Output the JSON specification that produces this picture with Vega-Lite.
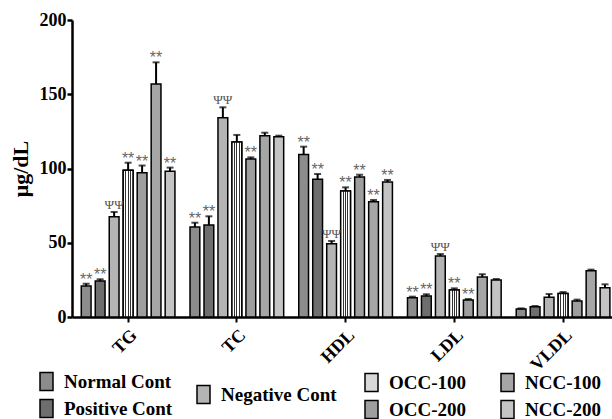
{
  "$schema": "https://vega.github.io/schema/vega-lite/v6.json",
  "width": 540,
  "height": 297,
  "autosize": {"type": "none"},
  "padding": {"left": 72, "top": 20, "right": 0, "bottom": 102},
  "background": "white",
  "config": {
    "view": {"stroke": null},
    "font": "Liberation Serif",
    "legend": {
      "labelFont": "Liberation Serif",
      "labelFontWeight": "bold",
      "labelFontSize": 19,
      "labelColor": "black",
      "symbolStrokeColor": "black",
      "symbolStrokeWidth": 1.5,
      "symbolOpacity": 1,
      "rowPadding": 2,
      "labelOffset": 8,
      "padding": 0,
      "titlePadding": 0
    }
  },
  "data": {
    "values": [
      {"m": "TG", "g": "Normal Cont", "v": 20.9, "u": 22.4, "s": "**"},
      {"m": "TG", "g": "Positive Cont", "v": 24.2, "u": 25.4, "s": "**"},
      {"m": "TG", "g": "Negative Cont", "v": 67.5, "u": 70.7, "s": "ΨΨ"},
      {"m": "TG", "g": "OCC-100", "v": 98.8, "u": 103.9, "s": "**"},
      {"m": "TG", "g": "OCC-200", "v": 97.2, "u": 102, "s": "**"},
      {"m": "TG", "g": "NCC-100", "v": 156.9, "u": 171.5, "s": "**"},
      {"m": "TG", "g": "NCC-200", "v": 98.1, "u": 100.6, "s": "**"},
      {"m": "TC", "g": "Normal Cont", "v": 60.6, "u": 63.5, "s": "**"},
      {"m": "TC", "g": "Positive Cont", "v": 62, "u": 67.8, "s": "**"},
      {"m": "TC", "g": "Negative Cont", "v": 134.2, "u": 141.2, "s": "ΨΨ"},
      {"m": "TC", "g": "OCC-100", "v": 117.8, "u": 122.6, "s": ""},
      {"m": "TC", "g": "OCC-200", "v": 106.4, "u": 107.5, "s": "**"},
      {"m": "TC", "g": "NCC-100", "v": 122.1, "u": 124.1, "s": ""},
      {"m": "TC", "g": "NCC-200", "v": 121.4, "u": 122.1, "s": ""},
      {"m": "HDL", "g": "Normal Cont", "v": 109.5, "u": 114.7, "s": "**"},
      {"m": "HDL", "g": "Positive Cont", "v": 92.7, "u": 96.3, "s": "**"},
      {"m": "HDL", "g": "Negative Cont", "v": 49.4, "u": 51.2, "s": "ΨΨ"},
      {"m": "HDL", "g": "OCC-100", "v": 84.8, "u": 87.3, "s": "**"},
      {"m": "HDL", "g": "OCC-200", "v": 94.3, "u": 95.8, "s": "**"},
      {"m": "HDL", "g": "NCC-100", "v": 77.6, "u": 78.8, "s": "**"},
      {"m": "HDL", "g": "NCC-200", "v": 90.9, "u": 92.3, "s": "**"},
      {"m": "LDL", "g": "Normal Cont", "v": 13, "u": 13.7, "s": "**"},
      {"m": "LDL", "g": "Positive Cont", "v": 14.1, "u": 15.3, "s": "**"},
      {"m": "LDL", "g": "Negative Cont", "v": 41.1, "u": 42.4, "s": "ΨΨ"},
      {"m": "LDL", "g": "OCC-100", "v": 18.2, "u": 19.3, "s": "**"},
      {"m": "LDL", "g": "OCC-200", "v": 11.4, "u": 12.1, "s": "**"},
      {"m": "LDL", "g": "NCC-100", "v": 26.9, "u": 28.8, "s": ""},
      {"m": "LDL", "g": "NCC-200", "v": 24.9, "u": 25.6, "s": ""},
      {"m": "VLDL", "g": "Normal Cont", "v": 5.4, "u": 5.8, "s": ""},
      {"m": "VLDL", "g": "Positive Cont", "v": 6.9, "u": 7.4, "s": ""},
      {"m": "VLDL", "g": "Negative Cont", "v": 13.3, "u": 15.5, "s": ""},
      {"m": "VLDL", "g": "OCC-100", "v": 15.9, "u": 16.8, "s": ""},
      {"m": "VLDL", "g": "OCC-200", "v": 10.8, "u": 11.7, "s": ""},
      {"m": "VLDL", "g": "NCC-100", "v": 31.2, "u": 31.9, "s": ""},
      {"m": "VLDL", "g": "NCC-200", "v": 19.7, "u": 22, "s": ""}
    ]
  },
  "encoding": {
    "x": {
      "field": "m",
      "type": "nominal",
      "sort": ["TG", "TC", "HDL", "LDL", "VLDL"],
      "scale": {"paddingInner": 0.1, "paddingOuter": 0.033, "align": 1},
      "axis": {
        "title": null,
        "labelAngle": -45,
        "labelFont": "Liberation Serif",
        "labelFontWeight": "bold",
        "labelFontSize": 18,
        "labelColor": "black",
        "labelPadding": 4,
        "domainColor": "black",
        "domainWidth": 2.5,
        "tickColor": "black",
        "tickWidth": 2,
        "tickSize": 5,
        "encode": {
          "labels": {
            "update": {
              "align": {"value": "right"},
              "baseline": {"value": "middle"}
            }
          }
        }
      }
    },
    "xOffset": {
      "field": "g",
      "type": "nominal",
      "scale": {
        "domain": ["Normal Cont", "Positive Cont", "Negative Cont", "OCC-100", "OCC-200", "NCC-100", "NCC-200"],
        "paddingInner": 0.3,
        "paddingOuter": 0.15
      }
    }
  },
  "layer": [
    {
      "transform": [{"filter": {"field": "g", "oneOf": ["Normal Cont", "Positive Cont"]}}],
      "mark": {"type": "bar", "stroke": "black", "strokeWidth": 1.5},
      "encoding": {
        "y": {
          "field": "v",
          "type": "quantitative",
          "scale": {"domain": [0, 200], "nice": false},
          "axis": {
            "title": "μg/dL",
            "titleFont": "Liberation Serif",
            "titleFontWeight": "bold",
            "titleFontSize": 22,
            "titleColor": "black",
            "titlePadding": 7,
            "values": [0, 50, 100, 150, 200],
            "grid": false,
            "labelFont": "Liberation Serif",
            "labelFontWeight": "bold",
            "labelFontSize": 18,
            "labelColor": "black",
            "labelPadding": 1,
            "domainColor": "black",
            "domainWidth": 2.5,
            "tickColor": "black",
            "tickWidth": 2.5,
            "tickSize": 5
          }
        },
        "fill": {
          "field": "g",
          "type": "nominal",
          "scale": {"domain": ["Normal Cont", "Positive Cont"], "range": ["#8c8c8c", "#6e6e6e"]},
          "legend": {"title": null, "orient": "none", "legendX": -35, "legendY": 352, "symbolType": "M-1,-1.4H1V1.4H-1Z", "symbolSize": 169}
        }
      }
    },
    {
      "transform": [{"filter": {"field": "g", "oneOf": ["Negative Cont"]}}],
      "mark": {"type": "bar", "stroke": "black", "strokeWidth": 1.5},
      "encoding": {
        "y": {"field": "v", "type": "quantitative"},
        "fill": {
          "field": "g",
          "type": "nominal",
          "scale": {"domain": ["Negative Cont"], "range": ["#b4b4b4"]},
          "legend": {"title": null, "orient": "none", "legendX": 122, "legendY": 365, "symbolType": "M-1,-1.4H1V1.4H-1Z", "symbolSize": 169}
        }
      }
    },
    {
      "transform": [{"filter": {"field": "g", "oneOf": ["OCC-100", "OCC-200"]}}],
      "mark": {"type": "bar", "stroke": "black", "strokeWidth": 1.5},
      "encoding": {
        "y": {"field": "v", "type": "quantitative"},
        "fill": {
          "field": "g",
          "type": "nominal",
          "scale": {"domain": ["OCC-100", "OCC-200"], "range": ["#d8d8d8", "#9e9e9e"]},
          "legend": {"title": null, "orient": "none", "legendX": 290, "legendY": 353, "symbolType": "M-1,-1.4H1V1.4H-1Z", "symbolSize": 169}
        }
      }
    },
    {
      "transform": [{"filter": {"field": "g", "oneOf": ["OCC-100"]}}],
      "mark": {
        "type": "bar",
        "stroke": "black",
        "strokeWidth": 1.5,
        "fill": {"gradient": "linear", "x1": 0, "y1": 0, "x2": 1, "y2": 0, "stops": [
          {"offset": 0, "color": "#ffffff"}, {"offset": 0.22, "color": "#ffffff"},
          {"offset": 0.22, "color": "#333333"}, {"offset": 0.32, "color": "#333333"},
          {"offset": 0.32, "color": "#ffffff"}, {"offset": 0.45, "color": "#ffffff"},
          {"offset": 0.45, "color": "#333333"}, {"offset": 0.55, "color": "#333333"},
          {"offset": 0.55, "color": "#ffffff"}, {"offset": 0.68, "color": "#ffffff"},
          {"offset": 0.68, "color": "#333333"}, {"offset": 0.78, "color": "#333333"},
          {"offset": 0.78, "color": "#ffffff"}, {"offset": 1, "color": "#ffffff"}
        ]}
      },
      "encoding": {
        "y": {"field": "v", "type": "quantitative"}
      }
    },
    {
      "transform": [{"filter": {"field": "g", "oneOf": ["NCC-100", "NCC-200"]}}],
      "mark": {"type": "bar", "stroke": "black", "strokeWidth": 1.5},
      "encoding": {
        "y": {"field": "v", "type": "quantitative"},
        "fill": {
          "field": "g",
          "type": "nominal",
          "scale": {"domain": ["NCC-100", "NCC-200"], "range": ["#a6a6a6", "#c4c4c4"]},
          "legend": {"title": null, "orient": "none", "legendX": 426, "legendY": 353, "symbolType": "M-1,-1.4H1V1.4H-1Z", "symbolSize": 169}
        }
      }
    },
    {
      "mark": {"type": "rule", "color": "black", "strokeWidth": 2},
      "encoding": {
        "y": {"field": "v", "type": "quantitative"},
        "y2": {"field": "u"}
      }
    },
    {
      "mark": {"type": "tick", "color": "black", "thickness": 2, "size": 7, "orient": "horizontal"},
      "encoding": {
        "y": {"field": "u", "type": "quantitative"}
      }
    },
    {
      "transform": [{"filter": "datum.s == '**'"}],
      "mark": {"type": "text", "font": "Liberation Sans", "fontSize": 16, "color": "#666666", "baseline": "alphabetic", "dy": 1},
      "encoding": {
        "y": {"field": "u", "type": "quantitative"},
        "text": {"field": "s"}
      }
    },
    {
      "transform": [{"filter": "datum.s == 'ΨΨ'"}],
      "mark": {"type": "text", "font": "Liberation Serif", "fontSize": 13, "color": "#555555", "baseline": "alphabetic", "dy": -3},
      "encoding": {
        "y": {"field": "u", "type": "quantitative"},
        "text": {"field": "s"}
      }
    }
  ],
  "resolve": {"scale": {"fill": "independent"}}
}
